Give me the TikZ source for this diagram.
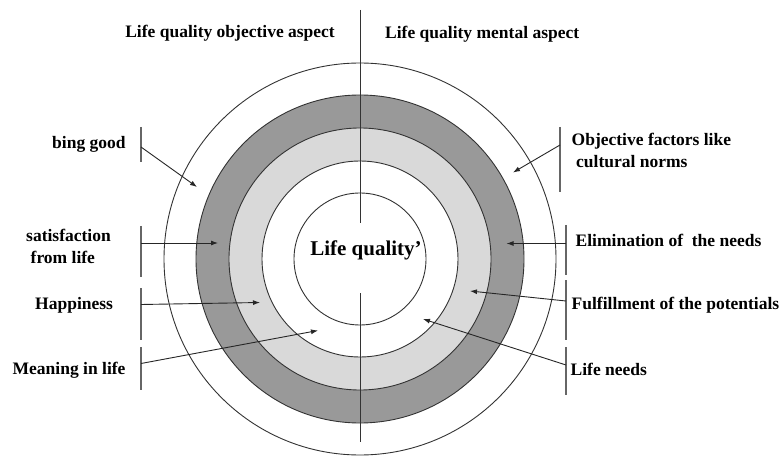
\documentclass[tikz,border=0pt]{standalone}
\usepackage{fontspec}
\setmainfont{Liberation Serif}
\usetikzlibrary{arrows.meta,positioning,calc}

\begin{document}
\begin{tikzpicture}[x=1pt,y=-1pt, line join=round,
  ring/.style={draw=black!80, line width=0.9pt},
  bar/.style={draw=black!60, line width=1.2pt},
  pointer/.style={draw=black!85, line width=0.9pt, -{Latex[length=7pt,width=5pt]}},
  lbl/.style={font=\bfseries\fontsize{17.5}{21.5}\selectfont, inner sep=0pt, text height=11pt, text depth=0pt, align=left}]
\useasboundingbox (0,0) rectangle (782,457);
\coordinate (O) at (360,259);
% rings
\fill[black!40] (O) circle (164pt);
\fill[black!15] (O) circle (131pt);
\fill[white] (O) circle (98pt);
\foreach \r in {66,98,131,164,196} \draw[ring] (O) circle (\r pt);
% axis
\coordinate (T1) at (360,10);
\coordinate (T2) at (360,223);
\coordinate (B1) at (360,293);
\coordinate (B2) at (360,442);
\draw[ring] (T1) -- (T2) (B1) -- (B2);
% titles
\node[lbl, anchor=east] (obj) at (335,32) {Life quality objective aspect};
\node[lbl, anchor=west] (mental) at (385,33) {Life quality mental aspect};
\node[lbl, font=\bfseries\fontsize{21}{24}\selectfont] (core) at (366,250) {Life quality’};
% left labels
\node[lbl, anchor=west] (good) at (52,143) {bing good};
\node[lbl, anchor=west] (satis) at (26,258) {satisfaction\\\hspace*{4.5pt}from life};
\node[lbl, anchor=west] (happy) at (35,304) {Happiness};
\node[lbl, anchor=west] (mean) at (12.5,368.5) {Meaning in life};
% right labels
\node[lbl, anchor=west] (factor) at (571.5,162) {Objective factors like\\\hspace*{4.5pt}cultural norms};
\node[lbl, anchor=west] (elim) at (575.5,241.5) {Elimination of~ the needs};
\node[lbl, anchor=west] (fulfil) at (571.5,303.5) {Fulfillment of the potentials};
\node[lbl, anchor=west] (needs) at (570.5,369.5) {Life needs};
% bars and pointers
\foreach \nm/\x/\ya/\yb/\ys/\tx/\ty in {
  good/141/127/162/147/197/187,
  satis/141/226/277/243/218/243,
  happy/141/288/340/304.5/260/302.5,
  mean/141/347/390/363.5/318/330.5,
  factor/560/127/192/145/513/172.5,
  elim/566/225/275/243.5/506.5/243.5,
  fulfil/566/280/340/301/470/291,
  needs/566/347/395/365/423/319}{
  \coordinate (\nm-a) at (\x,\ya);
  \coordinate (\nm-b) at (\x,\yb);
  \coordinate (\nm-s) at (\x,\ys);
  \coordinate (\nm-t) at (\tx,\ty);
  \draw[bar] (\nm-a) -- (\nm-b);
  \draw[pointer] (\nm-s) -- (\nm-t);
}
\end{tikzpicture}
\end{document}
